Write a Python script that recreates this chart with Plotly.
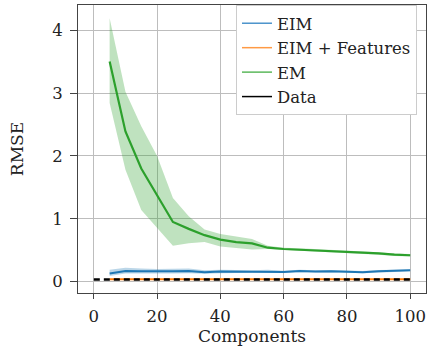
import plotly.graph_objects as go

x_comp = [5, 10, 15, 20, 25, 30, 35, 40, 45, 50, 55, 60, 65, 70, 75, 80, 85, 90, 95, 100]

eim_mean = [0.13, 0.17, 0.165, 0.16, 0.165, 0.17, 0.15, 0.16, 0.16, 0.155, 0.165, 0.155, 0.17, 0.16, 0.165, 0.16, 0.15, 0.165, 0.17, 0.18]
eim_low  = [0.09, 0.13, 0.13, 0.125, 0.13, 0.135, 0.125, 0.135, 0.14, 0.135, 0.145, 0.14, 0.15, 0.145, 0.15, 0.145, 0.135, 0.15, 0.155, 0.165]
eim_high = [0.19, 0.22, 0.21, 0.2, 0.205, 0.21, 0.18, 0.19, 0.185, 0.18, 0.19, 0.175, 0.19, 0.18, 0.185, 0.18, 0.17, 0.185, 0.185, 0.195]

eimf_mean = [0.04] * 20
eimf_low  = [0.03] * 20
eimf_high = [0.05] * 20

em_mean = [3.50, 2.39, 1.80, 1.37, 0.95, 0.84, 0.74, 0.67, 0.63, 0.61, 0.54, 0.52, 0.51, 0.50, 0.49, 0.47, 0.46, 0.45, 0.43, 0.42]
em_low  = [2.84, 1.78, 1.14, 0.85, 0.57, 0.61, 0.63, 0.56, 0.53, 0.51, 0.52, 0.50, 0.49, 0.48, 0.47, 0.45, 0.44, 0.43, 0.41, 0.40]
em_high = [4.19, 3.02, 2.47, 2.00, 1.33, 1.04, 0.83, 0.76, 0.72, 0.68, 0.57, 0.54, 0.53, 0.52, 0.51, 0.49, 0.48, 0.47, 0.45, 0.44]

data_x = [0, 100]
data_y = [0.035, 0.035]

series_names = ["EIM", "EIM + Features", "EM", "Data"]

blue, orange, green = "#1f77b4", "#ff7f0e", "#2ca02c"
fills = {blue: "rgba(31,119,180,0.3)", orange: "rgba(255,127,14,0.3)", green: "rgba(44,160,44,0.3)"}
legend_colors = ["#4e95cc", "#ff9a45", "#5cb85c", "black"]

fig = go.Figure()

def band(lo, hi, col):
    fig.add_trace(go.Scatter(x=x_comp, y=hi, mode="lines", line=dict(width=0), showlegend=False, hoverinfo="skip"))
    fig.add_trace(go.Scatter(x=x_comp, y=lo, mode="lines", line=dict(width=0), fill="tonexty",
                             fillcolor=fills[col], showlegend=False, hoverinfo="skip"))

band(eim_low, eim_high, blue)
band(eimf_low, eimf_high, orange)
band(em_low, em_high, green)

fig.add_trace(go.Scatter(x=x_comp, y=eim_mean, mode="lines", line=dict(color=blue, width=2), showlegend=False))
fig.add_trace(go.Scatter(x=x_comp, y=eimf_mean, mode="lines", line=dict(color=orange, width=2), showlegend=False))
fig.add_trace(go.Scatter(x=x_comp, y=em_mean, mode="lines", line=dict(color=green, width=2.2), showlegend=False))
fig.add_trace(go.Scatter(x=data_x, y=data_y, mode="lines", line=dict(color="black", width=2.5, dash="6px,4px"), showlegend=False))

# legend-only entries (solid thin lines as in the reference legend)
for nm, c in zip(series_names, legend_colors):
    fig.add_trace(go.Scatter(x=[None], y=[None], mode="lines", line=dict(color=c, width=1.5), name=nm))

font_family = "DejaVu Serif"
fig.update_layout(
    width=427, height=351,
    margin=dict(l=78, r=1, t=5, b=58),
    plot_bgcolor="white", paper_bgcolor="white",
    font=dict(family=font_family, size=16.5, color="#222"),
    showlegend=True,
    legend=dict(x=0.454, y=1.0, xanchor="left", yanchor="top", traceorder="normal",
                bgcolor="white", bordercolor="#cccccc", borderwidth=1,
                font=dict(size=16.5), tracegroupgap=0, itemwidth=30),
    xaxis=dict(range=[-5, 105], tickvals=[0, 20, 40, 60, 80, 100],
               showgrid=True, gridcolor="#bdbdbd", gridwidth=1,
               showline=True, linecolor="#444", linewidth=1, mirror=True,
               ticks="outside", ticklen=5, tickcolor="#444", ticklabelstandoff=3,
               zeroline=False,
               title=dict(text="Components", standoff=2, font=dict(size=17))),
    yaxis=dict(range=[-0.18, 4.4], tickvals=[0, 1, 2, 3, 4],
               showgrid=True, gridcolor="#bdbdbd", gridwidth=1,
               showline=True, linecolor="#444", linewidth=1, mirror=True,
               ticks="outside", ticklen=7, tickcolor="#444", ticklabelstandoff=4,
               zeroline=False,
               title=dict(text="RMSE", standoff=24, font=dict(size=17))),
)

fig.write_html("out.html", config={"displayModeBar": False},
               post_script="document.body.style.margin='0';document.body.style.padding='0';")
